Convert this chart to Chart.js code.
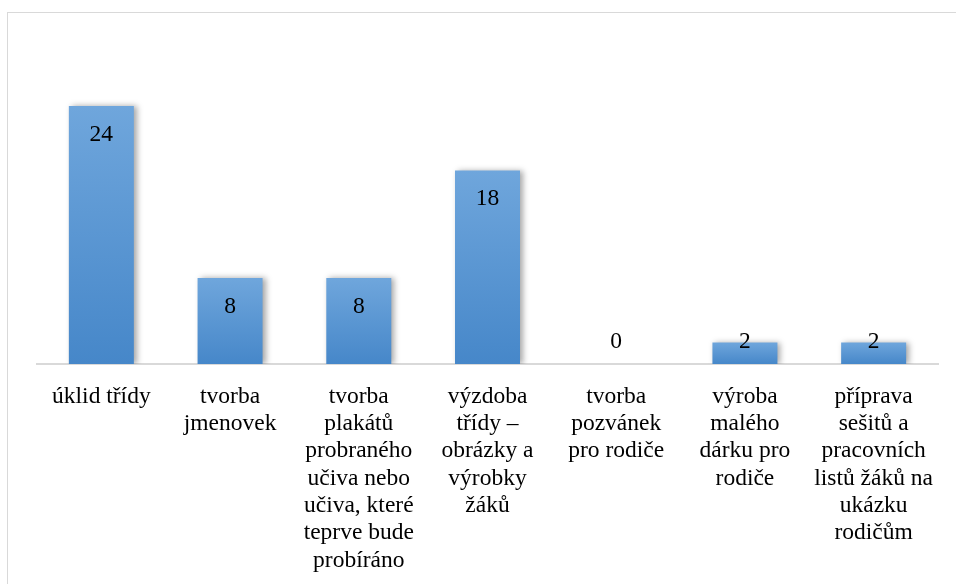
<!DOCTYPE html>
<html>
<head>
<meta charset="utf-8">
<script src="https://cdn.jsdelivr.net/npm/chart.js@4.4.1/dist/chart.umd.min.js"></script>
<style>
  html, body { margin: 0; padding: 0; background: #fff; }
  #wrap { position: relative; width: 956px; height: 584px; overflow: hidden; }
  #frame { position: absolute; left: 7px; top: 12px; width: 1000px; height: 700px; border: 1px solid #d9d9d9; box-sizing: border-box; }
  #c { position: absolute; left: 0; top: 0; }
</style>
</head>
<body>
<div id="wrap">
  <div id="frame"></div>
  <canvas id="c" width="956" height="584"></canvas>
</div>
<script>
const categories = [
  ["úklid třídy"],
  ["tvorba", "jmenovek"],
  ["tvorba", "plakátů", "probraného", "učiva nebo", "učiva, které", "teprve bude", "probíráno"],
  ["výzdoba", "třídy –", "obrázky a", "výrobky", "žáků"],
  ["tvorba", "pozvánek", "pro rodiče"],
  ["výroba", "malého", "dárku pro", "rodiče"],
  ["příprava", "sešitů a", "pracovních", "listů žáků na", "ukázku", "rodičům"]
];
const values = [24, 8, 8, 18, 0, 2, 2];
const yMin = 0;
const yMax = 30;

const FONT = "'Liberation Serif', 'Times New Roman', serif";

function barGradient(ctx) {
  const chart = ctx.chart;
  const ys = chart.scales && chart.scales.y;
  if (!ys || ctx.type !== 'data') return '#5b9bd5';
  const top = ys.getPixelForValue(ctx.raw);
  const base = ys.getPixelForValue(0);
  if (!isFinite(top) || !isFinite(base) || top === base) return '#5b9bd5';
  const g = chart.ctx.createLinearGradient(0, top, 0, base);
  g.addColorStop(0, '#6fa6dc');
  g.addColorStop(1, '#4687c9');
  return g;
}

const shadowPlugin = {
  id: 'barShadow',
  beforeDatasetsDraw(chart) {
    const c = chart.ctx;
    c.save();
    c.shadowColor = 'rgba(0,0,0,0.35)';
    c.shadowBlur = 6;
    c.shadowOffsetX = 3;
    c.shadowOffsetY = 0;
  },
  afterDatasetsDraw(chart) {
    chart.ctx.restore();
  }
};

const labelPlugin = {
  id: 'valueLabels',
  afterDatasetsDraw(chart) {
    const c = chart.ctx;
    const meta = chart.getDatasetMeta(0);
    const base = chart.scales.y.getPixelForValue(0);
    c.save();
    c.font = '23.5px ' + FONT;
    c.fillStyle = '#000';
    c.textAlign = 'center';
    c.textBaseline = 'middle';
    meta.data.forEach((el, i) => {
      const y = Math.min(el.y + 28.5, base - 22);
      c.fillText(String(values[i]), el.x, y);
    });
    c.restore();
  }
};

new Chart(document.getElementById('c'), {
  type: 'bar',
  data: {
    labels: categories,
    datasets: [{
      data: values,
      backgroundColor: barGradient,
      borderWidth: 0,
      barPercentage: 0.505,
      categoryPercentage: 1.0
    }]
  },
  options: {
    responsive: false,
    animation: false,
    devicePixelRatio: 1,
    layout: { padding: { left: 37, right: 18, top: 41.5, bottom: 0 } },
    plugins: {
      legend: { display: false },
      tooltip: { enabled: false },
      title: { display: false }
    },
    scales: {
      x: {
        grid: { display: false, drawTicks: false, tickLength: 0 },
        border: { display: true, color: '#d9d9d9', width: 2 },
        ticks: {
          font: { family: FONT, size: 23.5, lineHeight: 1.162 },
          color: '#000',
          padding: 19,
          maxRotation: 0,
          minRotation: 0,
          autoSkip: false
        },
        afterFit(scale) { scale.height = 220; }
      },
      y: {
        display: false,
        min: yMin,
        max: yMax
      }
    }
  },
  plugins: [shadowPlugin, labelPlugin]
});
</script>
</body>
</html>
